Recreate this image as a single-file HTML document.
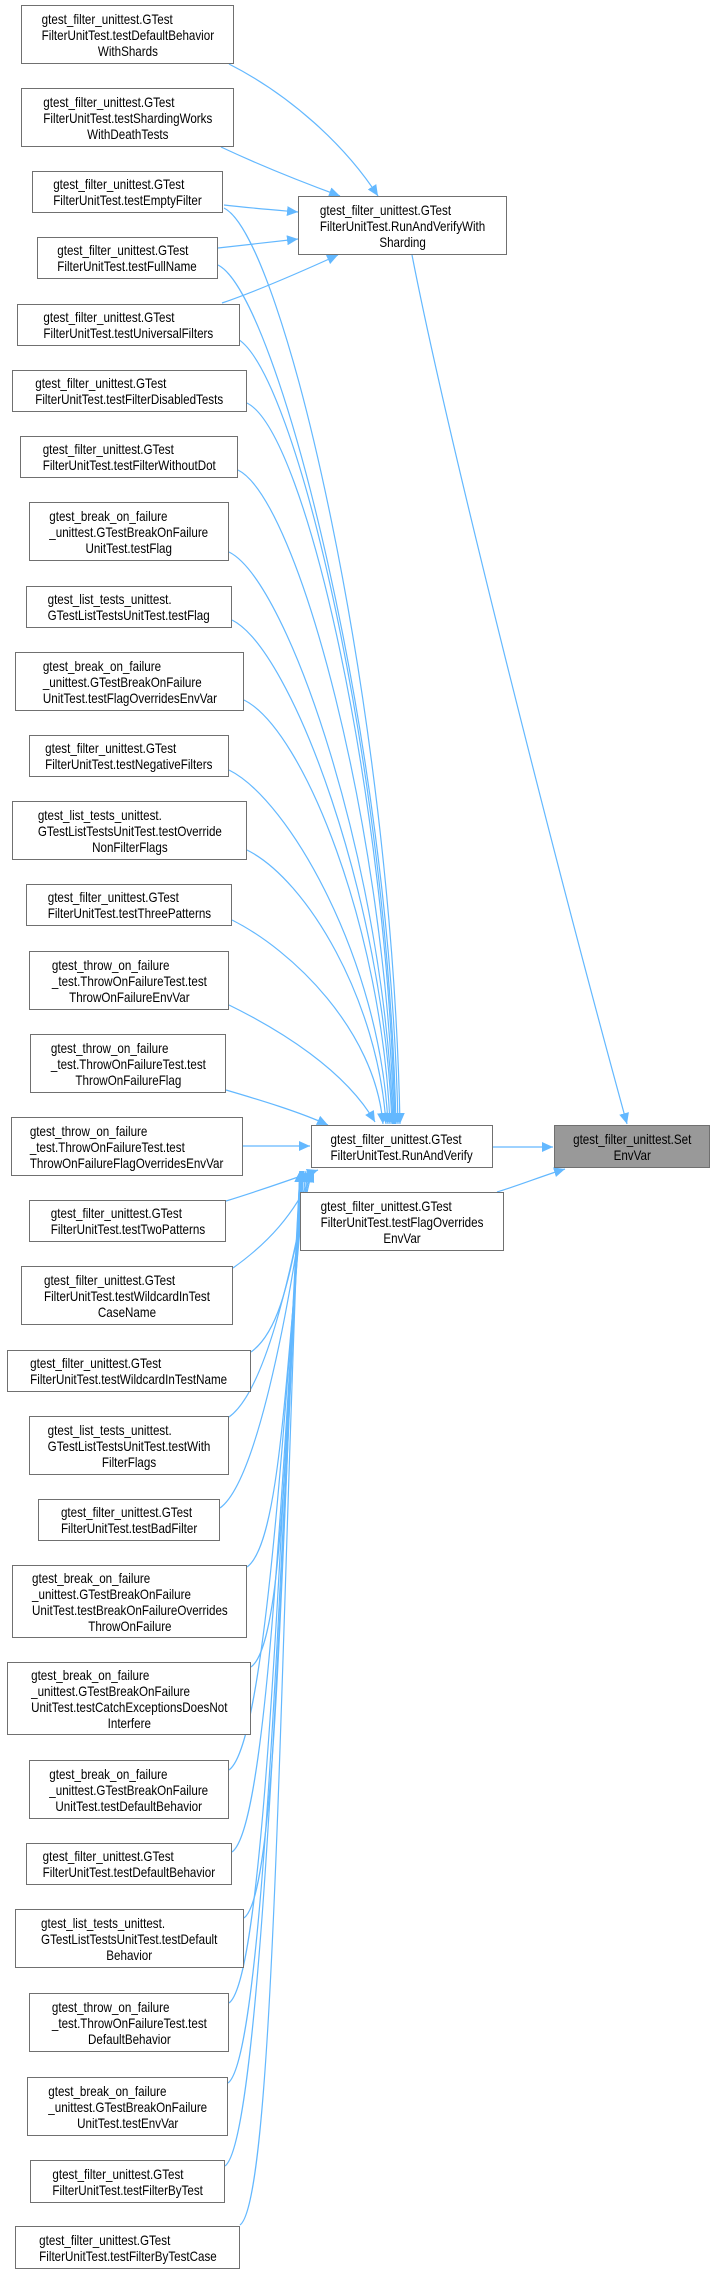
<!DOCTYPE html>
<html><head><meta charset="utf-8"><style>
html,body{margin:0;padding:0;background:#fff}
#c{position:relative;width:715px;height:2275px;overflow:hidden}
svg{position:absolute;left:0;top:0}
.n{position:absolute;box-sizing:border-box;border:1px solid #707070;background:#fff;display:flex;align-items:center;justify-content:center}
.n.g{background:#999}
.t{transform:scaleX(.83);transform-origin:center;font:14px/16px "Liberation Sans",Arial,sans-serif;white-space:nowrap;color:#000;text-align:left}
.t div:last-child{text-align:center}
</style></head><body><div id="c">
<svg width="715" height="2275" viewBox="0 0 715 2275">
<defs><marker id="a" markerUnits="userSpaceOnUse" markerWidth="12" markerHeight="10" refX="11" refY="5" orient="auto"><path d="M0,0 L11,5 L0,10 z" fill="#63b8ff"/></marker></defs>
<g fill="none" stroke="#63b8ff" stroke-width="1.2" marker-end="url(#a)">
<path d="M229,64 C290,95 345,145 378,196"/>
<path d="M221,147 C270,170 310,185 340,196"/>
<path d="M224,205 C250,208 275,210 298,212"/>
<path d="M218,248 C245,245 272,242 298,239"/>
<path d="M222,303 C260,290 305,270 338,255"/>
<path d="M412,255 C450,450 560,880 627,1124"/>
<path d="M493,1147 L553,1147"/>
<path d="M497,1192 C520,1185 545,1175 565,1169"/>
<path d="M243,1146 L310,1146"/>
<path d="M224,208 C284,238 392,708 400,1124"/>
<path d="M218,265 C278,295 390,740 398,1124"/>
<path d="M236,338 C296,368 388,770 396,1124"/>
<path d="M247,403 C307,433 387,800 395,1124"/>
<path d="M238,470 C298,500 386,830 394,1124"/>
<path d="M229,552 C289,582 385,870 393,1124"/>
<path d="M232,620 C292,650 384,900 392,1124"/>
<path d="M244,700 C304,730 382,930 390,1124"/>
<path d="M229,770 C289,800 380,960 388,1124"/>
<path d="M247,850 C307,880 378,1000 386,1124"/>
<path d="M232,920 C292,950 375,1030 383,1124"/>
<path d="M229,1005 C280,1030 345,1070 375,1122"/>
<path d="M226,1090 C260,1100 300,1112 328,1125"/>
<path d="M226,1201 C255,1192 290,1180 318,1170"/>
<path d="M233,1268 C268,1243 294,1215 314,1171"/>
<path d="M251,1352 C286,1327 292,1252 312,1171"/>
<path d="M229,1417 C264,1392 290,1281 310,1171"/>
<path d="M220,1508 C255,1483 288,1322 308,1171"/>
<path d="M247,1567 C282,1542 286,1349 306,1171"/>
<path d="M251,1667 C286,1642 284,1394 304,1171"/>
<path d="M229,1770 C264,1745 283,1440 303,1171"/>
<path d="M232,1852 C267,1827 282,1477 302,1171"/>
<path d="M244,1918 C279,1893 281,1507 301,1171"/>
<path d="M229,2003 C264,1978 280,1545 300,1171"/>
<path d="M228,2083 C263,2058 280,1581 300,1171"/>
<path d="M225,2166 C260,2141 280,1619 300,1171"/>
<path d="M240,2225 C275,2200 280,1645 300,1171"/>
</g></svg>

<div class="n" style="left:298px;top:196px;width:209px;height:59px"><div class="t"><div>gtest_filter_unittest.GTest</div><div>FilterUnitTest.RunAndVerifyWith</div><div>Sharding</div></div></div>
<div class="n" style="left:311px;top:1125px;width:182px;height:43px"><div class="t"><div>gtest_filter_unittest.GTest</div><div>FilterUnitTest.RunAndVerify</div></div></div>
<div class="n g" style="left:554px;top:1125px;width:156px;height:43px"><div class="t" style="text-align:center"><div>gtest_filter_unittest.Set</div><div>EnvVar</div></div></div>
<div class="n" style="left:300px;top:1192px;width:204px;height:59px"><div class="t"><div>gtest_filter_unittest.GTest</div><div>FilterUnitTest.testFlagOverrides</div><div>EnvVar</div></div></div>

<div class="n" style="left:21px;top:5px;width:213px;height:59px"><div class="t"><div>gtest_filter_unittest.GTest</div><div>FilterUnitTest.testDefaultBehavior</div><div>WithShards</div></div></div>
<div class="n" style="left:21px;top:88px;width:213px;height:59px"><div class="t"><div>gtest_filter_unittest.GTest</div><div>FilterUnitTest.testShardingWorks</div><div>WithDeathTests</div></div></div>
<div class="n" style="left:32px;top:171px;width:191px;height:42px"><div class="t"><div>gtest_filter_unittest.GTest</div><div>FilterUnitTest.testEmptyFilter</div></div></div>
<div class="n" style="left:37px;top:237px;width:181px;height:42px"><div class="t"><div>gtest_filter_unittest.GTest</div><div>FilterUnitTest.testFullName</div></div></div>
<div class="n" style="left:17px;top:304px;width:223px;height:42px"><div class="t"><div>gtest_filter_unittest.GTest</div><div>FilterUnitTest.testUniversalFilters</div></div></div>
<div class="n" style="left:12px;top:370px;width:235px;height:42px"><div class="t"><div>gtest_filter_unittest.GTest</div><div>FilterUnitTest.testFilterDisabledTests</div></div></div>
<div class="n" style="left:20px;top:436px;width:218px;height:42px"><div class="t"><div>gtest_filter_unittest.GTest</div><div>FilterUnitTest.testFilterWithoutDot</div></div></div>
<div class="n" style="left:29px;top:502px;width:200px;height:59px"><div class="t"><div>gtest_break_on_failure</div><div>_unittest.GTestBreakOnFailure</div><div>UnitTest.testFlag</div></div></div>
<div class="n" style="left:26px;top:586px;width:206px;height:42px"><div class="t"><div>gtest_list_tests_unittest.</div><div>GTestListTestsUnitTest.testFlag</div></div></div>
<div class="n" style="left:15px;top:652px;width:229px;height:59px"><div class="t"><div>gtest_break_on_failure</div><div>_unittest.GTestBreakOnFailure</div><div>UnitTest.testFlagOverridesEnvVar</div></div></div>
<div class="n" style="left:29px;top:735px;width:200px;height:42px"><div class="t"><div>gtest_filter_unittest.GTest</div><div>FilterUnitTest.testNegativeFilters</div></div></div>
<div class="n" style="left:12px;top:801px;width:235px;height:59px"><div class="t"><div>gtest_list_tests_unittest.</div><div>GTestListTestsUnitTest.testOverride</div><div>NonFilterFlags</div></div></div>
<div class="n" style="left:26px;top:884px;width:206px;height:42px"><div class="t"><div>gtest_filter_unittest.GTest</div><div>FilterUnitTest.testThreePatterns</div></div></div>
<div class="n" style="left:29px;top:951px;width:200px;height:59px"><div class="t"><div>gtest_throw_on_failure</div><div>_test.ThrowOnFailureTest.test</div><div>ThrowOnFailureEnvVar</div></div></div>
<div class="n" style="left:30px;top:1034px;width:196px;height:59px"><div class="t"><div>gtest_throw_on_failure</div><div>_test.ThrowOnFailureTest.test</div><div>ThrowOnFailureFlag</div></div></div>
<div class="n" style="left:11px;top:1117px;width:232px;height:59px"><div class="t"><div>gtest_throw_on_failure</div><div>_test.ThrowOnFailureTest.test</div><div>ThrowOnFailureFlagOverridesEnvVar</div></div></div>
<div class="n" style="left:29px;top:1200px;width:197px;height:42px"><div class="t"><div>gtest_filter_unittest.GTest</div><div>FilterUnitTest.testTwoPatterns</div></div></div>
<div class="n" style="left:21px;top:1266px;width:212px;height:59px"><div class="t"><div>gtest_filter_unittest.GTest</div><div>FilterUnitTest.testWildcardInTest</div><div>CaseName</div></div></div>
<div class="n" style="left:7px;top:1350px;width:244px;height:42px"><div class="t"><div>gtest_filter_unittest.GTest</div><div>FilterUnitTest.testWildcardInTestName</div></div></div>
<div class="n" style="left:29px;top:1416px;width:200px;height:59px"><div class="t"><div>gtest_list_tests_unittest.</div><div>GTestListTestsUnitTest.testWith</div><div>FilterFlags</div></div></div>
<div class="n" style="left:38px;top:1499px;width:182px;height:42px"><div class="t"><div>gtest_filter_unittest.GTest</div><div>FilterUnitTest.testBadFilter</div></div></div>
<div class="n" style="left:12px;top:1565px;width:235px;height:73px"><div class="t"><div>gtest_break_on_failure</div><div>_unittest.GTestBreakOnFailure</div><div>UnitTest.testBreakOnFailureOverrides</div><div>ThrowOnFailure</div></div></div>
<div class="n" style="left:7px;top:1662px;width:244px;height:73px"><div class="t"><div>gtest_break_on_failure</div><div>_unittest.GTestBreakOnFailure</div><div>UnitTest.testCatchExceptionsDoesNot</div><div>Interfere</div></div></div>
<div class="n" style="left:29px;top:1760px;width:200px;height:59px"><div class="t"><div>gtest_break_on_failure</div><div>_unittest.GTestBreakOnFailure</div><div>UnitTest.testDefaultBehavior</div></div></div>
<div class="n" style="left:26px;top:1843px;width:206px;height:42px"><div class="t"><div>gtest_filter_unittest.GTest</div><div>FilterUnitTest.testDefaultBehavior</div></div></div>
<div class="n" style="left:15px;top:1909px;width:229px;height:59px"><div class="t"><div>gtest_list_tests_unittest.</div><div>GTestListTestsUnitTest.testDefault</div><div>Behavior</div></div></div>
<div class="n" style="left:29px;top:1993px;width:200px;height:59px"><div class="t"><div>gtest_throw_on_failure</div><div>_test.ThrowOnFailureTest.test</div><div>DefaultBehavior</div></div></div>
<div class="n" style="left:27px;top:2077px;width:201px;height:59px"><div class="t"><div>gtest_break_on_failure</div><div>_unittest.GTestBreakOnFailure</div><div>UnitTest.testEnvVar</div></div></div>
<div class="n" style="left:30px;top:2160px;width:195px;height:43px"><div class="t"><div>gtest_filter_unittest.GTest</div><div>FilterUnitTest.testFilterByTest</div></div></div>
<div class="n" style="left:15px;top:2226px;width:225px;height:43px"><div class="t"><div>gtest_filter_unittest.GTest</div><div>FilterUnitTest.testFilterByTestCase</div></div></div>
</div></body></html>
